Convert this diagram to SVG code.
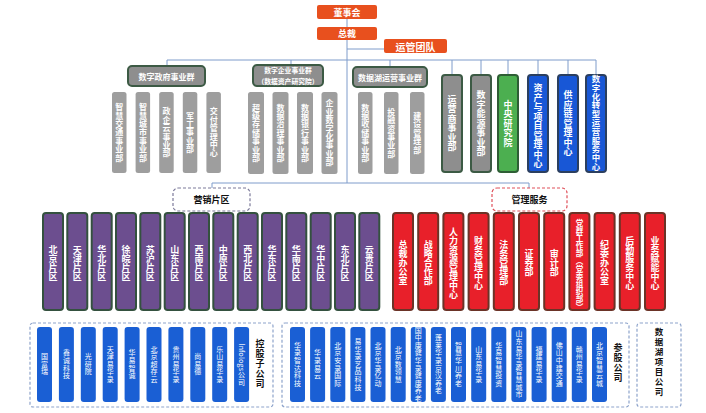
<svg xmlns="http://www.w3.org/2000/svg" width="706" height="413" viewBox="0 0 706 413">
<style>
text{font-family:"Noto Sans CJK SC","Noto Sans",sans-serif;fill:#fff;text-anchor:middle;font-weight:bold}
.h{dominant-baseline:central}
.v{writing-mode:vertical-rl}
.top{fill:#E8501E}
.grp{fill:#8E8E8E;stroke:#3C5A44;stroke-width:2}
.sub{fill:#9E9E9E}
.gb{fill:#8E8E8E;stroke:#3C5A44;stroke-width:2}
.gr{fill:#4CAF50;stroke:#2E5E35;stroke-width:2}
.bl{fill:#1857D6;stroke:#2B3F5F;stroke-width:2}
.pu{fill:#6C4E8F;stroke:#34513F;stroke-width:2}
.rd{fill:#E8202A;stroke:#6B3327;stroke-width:2}
.co{fill:#1A5FD4}
.conn{stroke:#7E9CCB;stroke-width:1;fill:none}
.dash{fill:none;stroke:#8DA3CB;stroke-width:1.2;stroke-dasharray:3 2}
.s8{font-size:8px;letter-spacing:0.4px}
.s9{font-size:9px;letter-spacing:0.5px}
.sb{font-size:9px;letter-spacing:0px}
.s7{font-size:7px;letter-spacing:0.6px;font-weight:normal}
.blk{fill:#111}
</style>
<g id="connectors">
<path class="conn" d="M347,19V27M347,40V183M347,49H384M167,60H596M167,60V66M291,60V66M390,60V67M452,60V75M481,60V75M508,60V75M538,60V75M568,60V75M596,60V75M212,183H529M212,183V188M529,183V188"/>
</g>
<g id="n-dongshihui"><rect class="top" x="317" y="5" width="60" height="14" rx="2"/><text class="h" x="347" y="12" style="font-size:9px">董事会</text></g>
<g id="n-zongcai"><rect class="top" x="317" y="27" width="60" height="13" rx="2"/><text class="h" x="347" y="33.5" style="font-size:9px">总裁</text></g>
<g id="n-yunguan"><rect class="top" x="384" y="39" width="63" height="14" rx="2"/><text class="h" x="415.5" y="46" style="font-size:10px">运管团队</text></g>

<g id="g-gov"><rect class="grp" x="128" y="66" width="77" height="20" rx="4"/><text class="h" x="166.5" y="76" style="font-size:8px">数字政府事业群</text></g>
<g id="g-gov-1"><rect class="sub" x="112" y="92" width="14.5" height="81" rx="2.5"/><text class="v s8" x="119.3" y="132.5">智慧交通事业部</text></g>
<g id="g-gov-2"><rect class="sub" x="135.6" y="92" width="14.5" height="81" rx="2.5"/><text class="v s8" x="142.9" y="132.5">智慧城市事业部</text></g>
<g id="g-gov-3"><rect class="sub" x="159.2" y="92" width="14.5" height="81" rx="2.5"/><text class="v s8" x="166.5" y="132.5">政企云事业部</text></g>
<g id="g-gov-4"><rect class="sub" x="182.8" y="92" width="14.5" height="81" rx="2.5"/><text class="v s8" x="190.1" y="132.5">军工事业部</text></g>
<g id="g-gov-5"><rect class="sub" x="206.4" y="92" width="14.5" height="81" rx="2.5"/><text class="v s8" x="213.7" y="132.5">交付管理中心</text></g>

<g id="g-ent"><rect class="grp" x="253" y="65" width="70" height="21" rx="4"/><text class="h" x="288" y="70.3" style="font-size:6.8px">数字企业事业群</text><text class="h" x="288" y="80.5" style="font-size:6.8px">（数据资产研究院）</text></g>
<g id="g-ent-1"><rect class="sub" x="248" y="92" width="16" height="82" rx="2.5"/><text class="v s8" x="256" y="133">超级存储事业部</text></g>
<g id="g-ent-2"><rect class="sub" x="272.5" y="92" width="16" height="82" rx="2.5"/><text class="v s8" x="280.5" y="133">数据治理事业部</text></g>
<g id="g-ent-3"><rect class="sub" x="297" y="92" width="16" height="82" rx="2.5"/><text class="v s8" x="305" y="133">数据银行事业部</text></g>
<g id="g-ent-4"><rect class="sub" x="321.5" y="92" width="16" height="82" rx="2.5"/><text class="v s8" x="329.5" y="133">企业数字化事业部</text></g>

<g id="g-lake"><rect class="grp" x="353" y="67" width="74" height="20" rx="4"/><text class="h" x="390" y="77" style="font-size:8px">数据湖运营事业群</text></g>
<g id="g-lake-1"><rect class="sub" x="358" y="92" width="14.5" height="82" rx="2.5"/><text class="v s8" x="365.3" y="133">数据收储事业部</text></g>
<g id="g-lake-2"><rect class="sub" x="384" y="92" width="14.5" height="82" rx="2.5"/><text class="v s8" x="391.3" y="133">投融资事业部</text></g>
<g id="g-lake-3"><rect class="sub" x="410" y="92" width="14.5" height="82" rx="2.5"/><text class="v s8" x="417.3" y="133">建设管理部</text></g>

<g id="n-yys"><rect class="gb" x="442" y="75" width="20" height="97" rx="3"/><text class="v s9" x="452" y="123.5">运营商事业部</text></g>
<g id="n-nengyuan"><rect class="gb" x="471" y="75" width="20" height="97" rx="3"/><text class="v s9" x="481" y="123.5">数字能源事业部</text></g>
<g id="n-yjy"><rect class="gr" x="498" y="75" width="20" height="97" rx="3"/><text class="v s9" x="508" y="123.5">中央研究院</text></g>
<g id="n-zichan"><rect class="bl" x="528" y="75" width="20" height="97" rx="3"/><text class="v s9" x="538" y="126">资产与项目管理中心</text></g>
<g id="n-gyl"><rect class="bl" x="558" y="75" width="20" height="97" rx="3"/><text class="v s9" x="568" y="123.5">供应链管理中心</text></g>
<g id="n-szh"><rect class="bl" x="586" y="75" width="20" height="97" rx="3"/><text class="v" x="596" y="123" style="font-size:8.4px;letter-spacing:0.4px">数字化转型运营服务中心</text></g>

<g id="n-yingxiao"><rect x="173" y="188" width="77" height="23" rx="5" fill="#fff" stroke="#7C7A9A" stroke-width="1.2" stroke-dasharray="3 2"/><text class="h blk" x="211.5" y="199.5" style="font-size:9px">营销片区</text></g>
<g id="n-guanli"><rect x="492" y="188" width="75" height="23" rx="5" fill="#fff" stroke="#E0505A" stroke-width="1.2" stroke-dasharray="3 2"/><text class="h blk" x="529.5" y="199.5" style="font-size:9px">管理服务</text></g>

<g id="s-1"><rect class="pu" x="43" y="213" width="20" height="97" rx="3"/><text class="v sb" x="53" y="263">北京片区</text></g>
<g id="s-2"><rect class="pu" x="67.3" y="213" width="20" height="97" rx="3"/><text class="v sb" x="77.3" y="263">天津片区</text></g>
<g id="s-3"><rect class="pu" x="91.7" y="213" width="20" height="97" rx="3"/><text class="v sb" x="101.7" y="263">华北片区</text></g>
<g id="s-4"><rect class="pu" x="116" y="213" width="20" height="97" rx="3"/><text class="v sb" x="126" y="263">徐皖片区</text></g>
<g id="s-5"><rect class="pu" x="140.3" y="213" width="20" height="97" rx="3"/><text class="v sb" x="150.3" y="263">苏沪片区</text></g>
<g id="s-6"><rect class="pu" x="164.7" y="213" width="20" height="97" rx="3"/><text class="v sb" x="174.7" y="263">山东片区</text></g>
<g id="s-7"><rect class="pu" x="189" y="213" width="20" height="97" rx="3"/><text class="v sb" x="199" y="263">西南片区</text></g>
<g id="s-8"><rect class="pu" x="213.3" y="213" width="20" height="97" rx="3"/><text class="v sb" x="223.3" y="263">中原片区</text></g>
<g id="s-9"><rect class="pu" x="237.7" y="213" width="20" height="97" rx="3"/><text class="v sb" x="247.7" y="263">西北片区</text></g>
<g id="s-10"><rect class="pu" x="262" y="213" width="20" height="97" rx="3"/><text class="v sb" x="272" y="263">华东片区</text></g>
<g id="s-11"><rect class="pu" x="286.3" y="213" width="20" height="97" rx="3"/><text class="v sb" x="296.3" y="263">华南片区</text></g>
<g id="s-12"><rect class="pu" x="310.7" y="213" width="20" height="97" rx="3"/><text class="v sb" x="320.7" y="263">华中片区</text></g>
<g id="s-13"><rect class="pu" x="335" y="213" width="20" height="97" rx="3"/><text class="v sb" x="345" y="263">东北片区</text></g>
<g id="s-14"><rect class="pu" x="359.3" y="213" width="20" height="97" rx="3"/><text class="v sb" x="369.3" y="263">云贵片区</text></g>

<g id="m-1"><rect class="rd" x="393" y="213" width="20" height="97" rx="3"/><text class="v sb" x="403" y="263">总裁办公室</text></g>
<g id="m-2"><rect class="rd" x="418.2" y="213" width="20" height="97" rx="3"/><text class="v sb" x="428.2" y="263">战略合作部</text></g>
<g id="m-3"><rect class="rd" x="443.4" y="213" width="20" height="97" rx="3"/><text class="v sb" x="453.4" y="263">人力资源管理中心</text></g>
<g id="m-4"><rect class="rd" x="468.6" y="213" width="20" height="97" rx="3"/><text class="v sb" x="478.6" y="263">财务管理中心</text></g>
<g id="m-5"><rect class="rd" x="493.8" y="213" width="20" height="97" rx="3"/><text class="v sb" x="503.8" y="263">法务管理部</text></g>
<g id="m-6"><rect class="rd" x="519" y="213" width="20" height="97" rx="3"/><text class="v sb" x="529" y="263">证券部</text></g>
<g id="m-7"><rect class="rd" x="544.2" y="213" width="20" height="97" rx="3"/><text class="v sb" x="554.2" y="263">审计部</text></g>
<g id="m-8"><rect class="rd" x="569.4" y="213" width="20" height="97" rx="3"/><text class="v" x="579.4" y="265" style="font-size:7.5px;letter-spacing:0.1px">党群工作部（党委组织部）</text></g>
<g id="m-9"><rect class="rd" x="594.6" y="213" width="20" height="97" rx="3"/><text class="v sb" x="604.6" y="263">纪委办公室</text></g>
<g id="m-10"><rect class="rd" x="619.8" y="213" width="20" height="97" rx="3"/><text class="v sb" x="629.8" y="263">后勤服务中心</text></g>
<g id="m-11"><rect class="rd" x="645" y="213" width="20" height="97" rx="3"/><text class="v sb" x="655" y="263">业务赋能中心</text></g>

<g id="box-kongu"><rect class="dash" x="30" y="323" width="243" height="84" rx="3"/><text class="v blk" x="260" y="364" style="font-size:9px;letter-spacing:0.8px">控股子公司</text></g>
<g id="k-1"><rect class="co" x="37" y="327" width="15" height="75" rx="3"/><text class="v s7" x="44.5" y="364.5">国富瑞</text></g>
<g id="k-2"><rect class="co" x="58.9" y="327" width="15" height="75" rx="3"/><text class="v s7" x="66.4" y="364.5">鑫诚科技</text></g>
<g id="k-3"><rect class="co" x="80.8" y="327" width="15" height="75" rx="3"/><text class="v s7" x="88.3" y="364.5">光研院</text></g>
<g id="k-4"><rect class="co" x="102.7" y="327" width="15" height="75" rx="3"/><text class="v s7" x="110.2" y="364.5">天津易华录</text></g>
<g id="k-5"><rect class="co" x="124.6" y="327" width="15" height="75" rx="3"/><text class="v s7" x="132.1" y="364.5">华易智诚</text></g>
<g id="k-6"><rect class="co" x="146.5" y="327" width="15" height="75" rx="3"/><text class="v s7" x="154" y="364.5">北京超存云</text></g>
<g id="k-7"><rect class="co" x="168.4" y="327" width="15" height="75" rx="3"/><text class="v s7" x="175.9" y="364.5">贵州易华录</text></g>
<g id="k-8"><rect class="co" x="190.3" y="327" width="15" height="75" rx="3"/><text class="v s7" x="197.8" y="364.5">尚易德</text></g>
<g id="k-9"><rect class="co" x="212.2" y="327" width="15" height="75" rx="3"/><text class="v s7" x="219.7" y="364.5">乐山易华录</text></g>
<g id="k-10"><rect class="co" x="234.1" y="327" width="15" height="75" rx="3"/><text class="v s7" x="241.6" y="364.5" style="letter-spacing:0.2px">Infologs公司</text></g>

<g id="box-cangu"><rect class="dash" x="282" y="323" width="347" height="84" rx="3"/><text class="v blk" x="618" y="363" style="font-size:9px;letter-spacing:1px">参股公司</text></g>
<g id="c-1"><rect class="co" x="290" y="327" width="15" height="75" rx="3"/><text class="v s7" x="297.5" y="364.5">华录智达科技</text></g>
<g id="c-2"><rect class="co" x="310.1" y="327" width="15" height="75" rx="3"/><text class="v s7" x="317.6" y="364.5">华录易云</text></g>
<g id="c-3"><rect class="co" x="330.3" y="327" width="15" height="75" rx="3"/><text class="v s7" x="337.8" y="364.5">北京安录国际</text></g>
<g id="c-4"><rect class="co" x="350.4" y="327" width="15" height="75" rx="3"/><text class="v s7" x="357.9" y="364.5">易华录艺品科技</text></g>
<g id="c-5"><rect class="co" x="370.5" y="327" width="15" height="75" rx="3"/><text class="v s7" x="378" y="364.5">北京华录亿动</text></g>
<g id="c-6"><rect class="co" x="390.7" y="327" width="15" height="75" rx="3"/><text class="v s7" x="398.2" y="364.5">北京数领慧</text></g>
<g id="c-7"><rect class="co" x="410.8" y="327" width="15" height="75" rx="3"/><text class="v s7" x="418.3" y="364.5">国中康健华录健康养老</text></g>
<g id="c-8"><rect class="co" x="430.9" y="327" width="15" height="75" rx="3"/><text class="v s7" x="438.4" y="364.5">蓬莱华录京汉养老</text></g>
<g id="c-9"><rect class="co" x="451" y="327" width="15" height="75" rx="3"/><text class="v s7" x="458.5" y="364.5">智慧华川养老</text></g>
<g id="c-10"><rect class="co" x="471.2" y="327" width="15" height="75" rx="3"/><text class="v s7" x="478.7" y="364.5">山东易华录</text></g>
<g id="c-11"><rect class="co" x="491.3" y="327" width="15" height="75" rx="3"/><text class="v s7" x="498.8" y="364.5">华易智慧投资</text></g>
<g id="c-12"><rect class="co" x="511.4" y="327" width="15" height="75" rx="3"/><text class="v s7" x="518.9" y="364.5">山东易华录智慧城市</text></g>
<g id="c-13"><rect class="co" x="531.6" y="327" width="15" height="75" rx="3"/><text class="v s7" x="539.1" y="364.5">福建易华录</text></g>
<g id="c-14"><rect class="co" x="551.7" y="327" width="15" height="75" rx="3"/><text class="v s7" x="559.2" y="364.5">佛山中建交通</text></g>
<g id="c-15"><rect class="co" x="571.8" y="327" width="15" height="75" rx="3"/><text class="v s7" x="579.3" y="364.5">赣州易华录</text></g>
<g id="c-16"><rect class="co" x="592" y="327" width="15" height="75" rx="3"/><text class="v s7" x="599.5" y="364.5">北京智慧云城</text></g>

<g id="box-datalake"><rect class="dash" x="637" y="323" width="44" height="84" rx="3"/><text class="v blk" x="659" y="363" style="font-size:8.5px;letter-spacing:1.5px">数据湖项目公司</text></g>
</svg>
